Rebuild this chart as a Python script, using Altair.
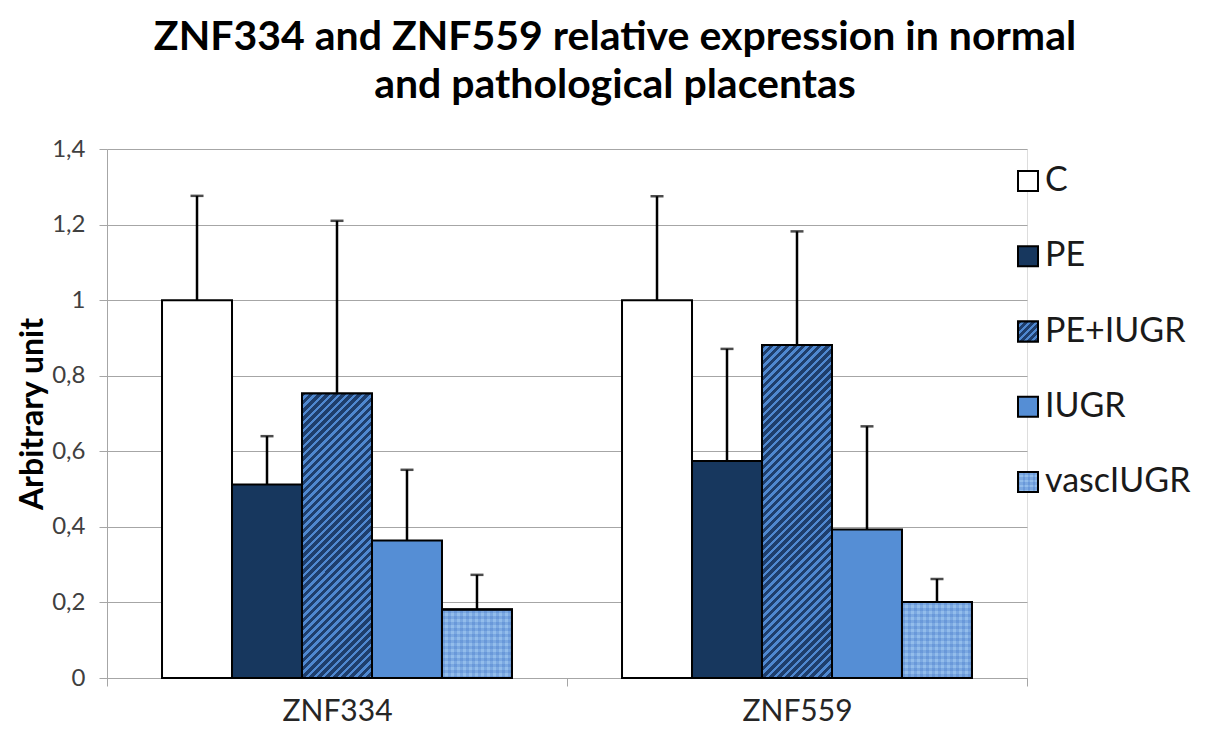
import math
import altair as alt
import pandas as pd

genes = ["ZNF334", "ZNF559"]
groups = ["C", "PE", "PE+IUGR", "IUGR", "vascIUGR"]
znf334_mean = [1.0, 0.512, 0.753, 0.364, 0.181]
znf334_upper = [1.276, 0.640, 1.210, 0.551, 0.273]
znf559_mean = [1.0, 0.574, 0.881, 0.393, 0.201]
znf559_upper = [1.275, 0.871, 1.182, 0.666, 0.262]
y_ticks = [0, 0.2, 0.4, 0.6, 0.8, 1.0, 1.2, 1.4]

colors = ["#FFFFFF", "#17375E", "#1F3F6F", "#558ED5", "#93BDEB"]
FONT = "Lato"

rows = []
for g, means, ups in [("ZNF334", znf334_mean, znf334_upper), ("ZNF559", znf559_mean, znf559_upper)]:
    for grp, m, u in zip(groups, means, ups):
        rows.append({"gene": g, "group": grp, "value": m, "upper": u})
df = pd.DataFrame(rows)
legend_df = pd.DataFrame({"group": groups})

# layout (pixels)
W, H = 920, 529
YMAX = 1.4
PX = H / YMAX
BAR_W = 70.0
SQ = 20.0


def stripe_grad(w, h, period, c1, c2, frac=0.5, direction="diag"):
    if direction == "diag":
        c = (w + h) / (w * w + h * h)
        x2, y2 = c * w, c * h
        n = (w + h) / (math.sqrt(2) * period)
    elif direction == "v":
        x2, y2 = 1, 0
        n = w / period
    else:
        x2, y2 = 0, 1
        n = h / period
    stops = []
    k = 0
    while k / n < 1:
        a = k / n
        b = min((k + frac) / n, 1)
        e = min((k + 1) / n, 1)
        stops += [alt.GradientStop(offset=a, color=c1), alt.GradientStop(offset=b, color=c1),
                  alt.GradientStop(offset=b, color=c2), alt.GradientStop(offset=e, color=c2)]
        k += 1
    return alt.LinearGradient(gradient="linear", stops=stops, x1=0, y1=0, x2=x2, y2=y2)


HATCH_DARK, HATCH_LIGHT = "#1E3E6C", "#4F88D0"
CHK = "rgba(40,95,190,0.22)"
TRANSP = "rgba(255,255,255,0)"

xenc = alt.X("gene:N", sort=genes, title=None,
             scale=alt.Scale(paddingInner=0, paddingOuter=0),
             axis=alt.Axis(labelAngle=0, tickBand="extent", grid=False, labelFontSize=30,
                           labelFont=FONT, labelColor="#262626", tickSize=8, labelPadding=10,
                           domainColor="#A6A6A6", tickColor="#A6A6A6"))
xoff = alt.XOffset("group:N", sort=groups, scale=alt.Scale(paddingInner=0, paddingOuter=0.786))
yscale = alt.Scale(domain=[0, YMAX], nice=False)
yaxis = alt.Axis(values=y_ticks, labelExpr="replace(toString(datum.value), '.', ',')",
                 gridColor="#A6A6A6", domainColor="#A6A6A6", tickColor="#A6A6A6",
                 tickSize=8, labelFontSize=24, labelFont=FONT, labelColor="#404040",
                 labelPadding=14, titleFontSize=32, titleFont=FONT, titleFontWeight="bold",
                 titleColor="#000000", titleX=-75, titleY=H / 2, titleAngle=-90,
                 titleBaseline="middle", titleAlign="center")
yenc = alt.Y("value:Q", scale=yscale, title="Arbitrary unit", axis=yaxis)

base = alt.Chart(df)
bars = base.mark_bar(stroke="#000000", strokeWidth=2).encode(
    x=xenc, xOffset=xoff, y=yenc,
    color=alt.Color("group:N", scale=alt.Scale(domain=groups, range=colors), legend=None),
)

layers = [bars]
for _, r in df.iterrows():
    h = r["value"] * PX
    flt = (alt.datum.gene == r["gene"]) & (alt.datum.group == r["group"])
    if r["group"] == "PE+IUGR":
        layers.append(base.transform_filter(flt).mark_bar(
            fill=stripe_grad(BAR_W, h, 5.7, HATCH_DARK, HATCH_LIGHT, 0.55),
            stroke="#000000", strokeWidth=2).encode(x=xenc, xOffset=xoff, y=yenc))
    if r["group"] == "vascIUGR":
        for d in ["v", "h"]:
            layers.append(base.transform_filter(flt).mark_bar(
                fill=stripe_grad(BAR_W, h, 6.0, CHK, TRANSP, 0.5, d),
                stroke="#000000", strokeWidth=2).encode(x=xenc, xOffset=xoff, y=yenc))

err = base.mark_rule(color="#000000", strokeWidth=2.5).encode(
    x=xenc, xOffset=xoff, y=yenc, y2="upper:Q")
caps = base.mark_tick(color="#000000", size=13, thickness=2.5).encode(
    x=xenc, xOffset=xoff, y=alt.Y("upper:Q", scale=yscale, title="Arbitrary unit", axis=yaxis))
layers += [err, caps]
main = alt.layer(*layers)

# custom legend
LEG_X = 921
ly = alt.Y("group:N", sort=groups, axis=None,
           scale=alt.Scale(type="point", domain=groups, range=[32, 333], padding=0))
lbase = alt.Chart(legend_df)
leg_layers = [lbase.mark_square(size=SQ * SQ, stroke="#000000", strokeWidth=2, opacity=1).encode(
    x=alt.value(LEG_X), y=ly,
    color=alt.Color("group:N", scale=alt.Scale(domain=groups, range=colors), legend=None))]
leg_layers.append(lbase.transform_filter(alt.datum.group == "PE+IUGR").mark_square(
    size=SQ * SQ, fill=stripe_grad(SQ, SQ, 5.0, HATCH_DARK, HATCH_LIGHT, 0.55),
    stroke="#000000", strokeWidth=2, opacity=1).encode(x=alt.value(LEG_X), y=ly))
for d in ["v", "h"]:
    leg_layers.append(lbase.transform_filter(alt.datum.group == "vascIUGR").mark_square(
        size=SQ * SQ, fill=stripe_grad(SQ, SQ, 5.0, CHK, TRANSP, 0.5, d),
        stroke="#000000", strokeWidth=2, opacity=1).encode(x=alt.value(LEG_X), y=ly))
leg_layers.append(lbase.mark_text(align="left", baseline="middle", fontSize=34, font=FONT,
                                  color="#1A1A1A").encode(x=alt.value(LEG_X + 17), y=ly, text="group:N"))
legend = alt.layer(*leg_layers)

chart = alt.layer(main, legend).resolve_scale(y="independent").properties(
    width=W, height=H,
    autosize=alt.AutoSizeParams(type="none"),
    padding={"left": 99, "top": 141, "right": 174, "bottom": 52},
    title=alt.TitleParams(
        text=["ZNF334 and ZNF559 relative expression in normal", "and pathological placentas"],
        fontSize=41, font=FONT, fontWeight="bold", color="#000000", anchor="middle",
        dx=48, offset=30, lineHeight=48),
).configure_view(stroke=None).configure(background="#FFFFFF")

chart.save("out.html", embed_options={"renderer": "svg", "actions": False})
